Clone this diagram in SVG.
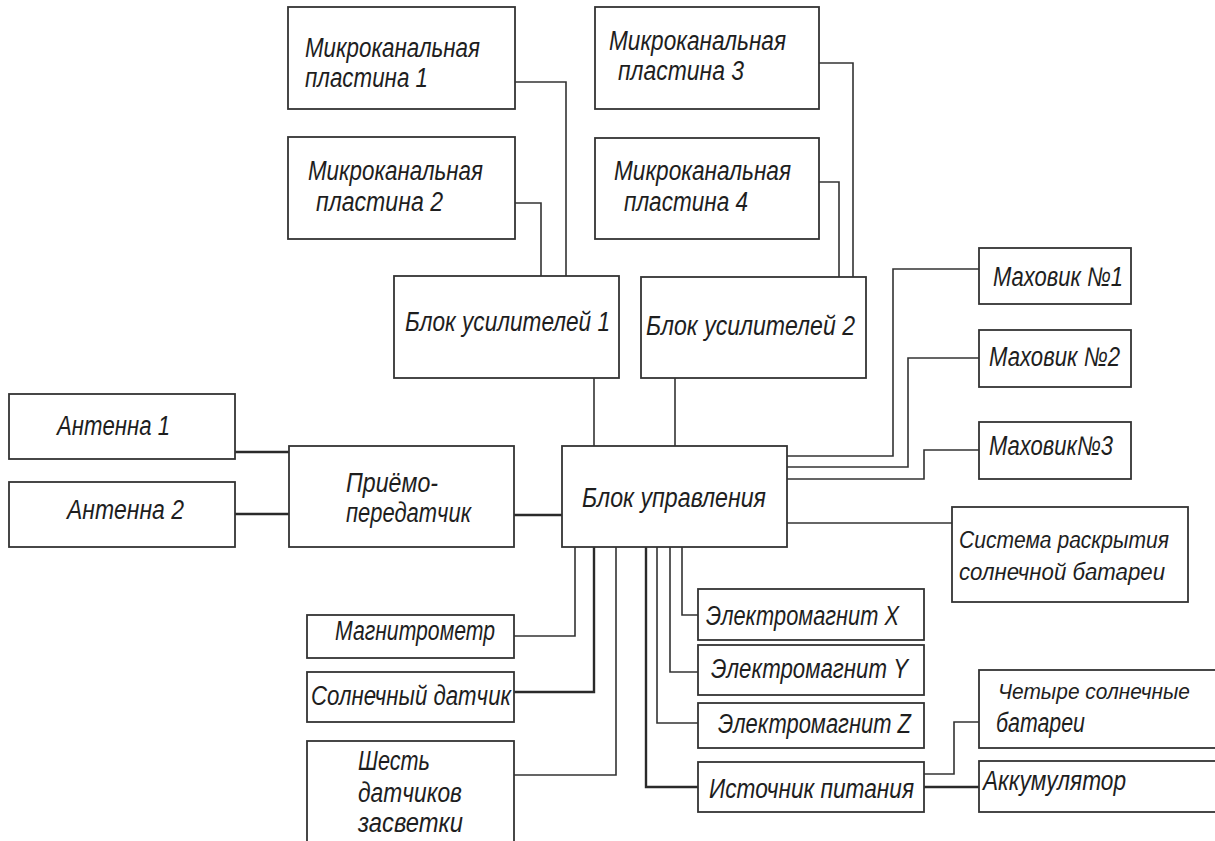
<svg xmlns="http://www.w3.org/2000/svg" width="1215" height="841" viewBox="0 0 1215 841">
<style>
.box{fill:#fff;stroke:#333;stroke-width:1.8}
.t{font-family:"Liberation Sans","DejaVu Sans",sans-serif;font-style:italic;font-size:27px;fill:#1e1e1e}
.s{font-size:24.5px}
.xs{font-size:22px}
.c{fill:none;stroke:#333;stroke-width:1.6}
.ck{fill:none;stroke:#2a2a2a;stroke-width:2.4}
</style>
<rect width="1215" height="841" fill="#fff"/>
<g id="connectors">
<path class="c" d="M515,82H566V276"/>
<path class="c" d="M515,203H541V276"/>
<path class="c" d="M819,63H853V277"/>
<path class="c" d="M819,182H839V277"/>
<path class="c" d="M594,378V446"/>
<path class="c" d="M675,378V446"/>
<path class="ck" d="M235,452H289"/>
<path class="ck" d="M235,514H289"/>
<path class="ck" d="M514,515H562"/>
<path class="c" d="M787,456H893V269H979"/>
<path class="c" d="M787,467H908V358H979"/>
<path class="c" d="M787,479H924V450H979"/>
<path class="c" d="M787,523H952"/>
<path class="c" d="M575,547V636H514"/>
<path class="ck" d="M594,547V692H514"/>
<path class="c" d="M616,547V775H514"/>
<path class="ck" d="M646,547V787H698"/>
<path class="c" d="M657,547V723H698"/>
<path class="c" d="M670,547V672H698"/>
<path class="c" d="M682,547V615H698"/>
<path class="c" d="M924,774H954V722H979"/>
<path class="ck" d="M924,787H979"/>
</g>
<g id="mp1"><rect class="box" x="288" y="7" width="227" height="102"/><text class="t" x="305" y="57" textLength="175" lengthAdjust="spacingAndGlyphs">Микроканальная</text><text class="t" x="305" y="87" textLength="123" lengthAdjust="spacingAndGlyphs">пластина 1</text></g>
<g id="mp2"><rect class="box" x="288" y="137" width="227" height="102"/><text class="t" x="308" y="180" textLength="175" lengthAdjust="spacingAndGlyphs">Микроканальная</text><text class="t" x="316" y="211" textLength="127" lengthAdjust="spacingAndGlyphs">пластина 2</text></g>
<g id="mp3"><rect class="box" x="595" y="7" width="224" height="102"/><text class="t" x="609" y="50" textLength="177" lengthAdjust="spacingAndGlyphs">Микроканальная</text><text class="t" x="618" y="80" textLength="126" lengthAdjust="spacingAndGlyphs">пластина 3</text></g>
<g id="mp4"><rect class="box" x="595" y="138" width="224" height="101"/><text class="t" x="614" y="180" textLength="177" lengthAdjust="spacingAndGlyphs">Микроканальная</text><text class="t" x="624" y="211" textLength="124" lengthAdjust="spacingAndGlyphs">пластина 4</text></g>
<g id="bu1"><rect class="box" x="394" y="276" width="225" height="102"/><text class="t" x="405" y="331" textLength="205" lengthAdjust="spacingAndGlyphs">Блок усилителей 1</text></g>
<g id="bu2"><rect class="box" x="641" y="277" width="225" height="101"/><text class="t" x="646" y="335" textLength="209" lengthAdjust="spacingAndGlyphs">Блок усилителей 2</text></g>
<g id="bu"><rect class="box" x="562" y="446" width="225" height="101"/><text class="t" x="582" y="507" textLength="184" lengthAdjust="spacingAndGlyphs">Блок управления</text></g>
<g id="ant1"><rect class="box" x="9" y="394" width="226" height="65"/><text class="t" x="57" y="435" textLength="113" lengthAdjust="spacingAndGlyphs">Антенна 1</text></g>
<g id="ant2"><rect class="box" x="9" y="482" width="226" height="65"/><text class="t" x="67" y="519" textLength="117" lengthAdjust="spacingAndGlyphs">Антенна 2</text></g>
<g id="priemo"><rect class="box" x="289" y="446" width="225" height="101"/><text class="t" x="346" y="492" textLength="92" lengthAdjust="spacingAndGlyphs">Приёмо-</text><text class="t" x="346" y="522" textLength="125" lengthAdjust="spacingAndGlyphs">передатчик</text></g>
<g id="mah1"><rect class="box" x="979" y="248" width="152" height="56"/><text class="t" x="993" y="286" textLength="130" lengthAdjust="spacingAndGlyphs">Маховик №1</text></g>
<g id="mah2"><rect class="box" x="979" y="330" width="152" height="57"/><text class="t" x="989" y="366" textLength="131" lengthAdjust="spacingAndGlyphs">Маховик №2</text></g>
<g id="mah3"><rect class="box" x="979" y="422" width="152" height="57"/><text class="t" x="989" y="455" textLength="124" lengthAdjust="spacingAndGlyphs">Маховик№3</text></g>
<g id="sistema"><rect class="box" x="952" y="507" width="236" height="95"/><text class="t s" x="959" y="548" textLength="210" lengthAdjust="spacingAndGlyphs">Система раскрытия</text><text class="t s" x="959" y="580" textLength="206" lengthAdjust="spacingAndGlyphs">солнечной батареи</text></g>
<g id="magn"><rect class="box" x="307" y="615" width="207" height="43"/><text class="t" x="335" y="640" textLength="160" lengthAdjust="spacingAndGlyphs">Магнитрометр</text></g>
<g id="sol"><rect class="box" x="307" y="672" width="207" height="50"/><text class="t" x="311" y="705" textLength="200" lengthAdjust="spacingAndGlyphs">Солнечный датчик</text></g>
<g id="shest"><rect class="box" x="307" y="741" width="207" height="110"/><text class="t" x="358" y="770" textLength="72" lengthAdjust="spacingAndGlyphs">Шесть</text><text class="t" x="358" y="802" textLength="104" lengthAdjust="spacingAndGlyphs">датчиков</text><text class="t" x="358" y="832" textLength="105" lengthAdjust="spacingAndGlyphs">засветки</text></g>
<g id="elx"><rect class="box" x="698" y="589" width="226" height="51"/><text class="t" x="706" y="625" textLength="193" lengthAdjust="spacingAndGlyphs">Электромагнит X</text></g>
<g id="ely"><rect class="box" x="698" y="645" width="226" height="50"/><text class="t" x="711" y="678" textLength="197" lengthAdjust="spacingAndGlyphs">Электромагнит Y</text></g>
<g id="elz"><rect class="box" x="698" y="703" width="226" height="45"/><text class="t" x="718" y="733" textLength="193" lengthAdjust="spacingAndGlyphs">Электромагнит Z</text></g>
<g id="ist"><rect class="box" x="698" y="762" width="226" height="50"/><text class="t" x="709" y="798" textLength="205" lengthAdjust="spacingAndGlyphs">Источник питания</text></g>
<g id="chet"><rect class="box" x="979" y="670" width="250" height="78"/><text class="t xs" x="998" y="699" textLength="192" lengthAdjust="spacingAndGlyphs">Четыре солнечные</text><text class="t" x="996" y="732" textLength="89" lengthAdjust="spacingAndGlyphs">батареи</text></g>
<g id="akk"><rect class="box" x="979" y="761" width="250" height="51"/><text class="t" x="983" y="790" textLength="143" lengthAdjust="spacingAndGlyphs">Аккумулятор</text></g>
</svg>
